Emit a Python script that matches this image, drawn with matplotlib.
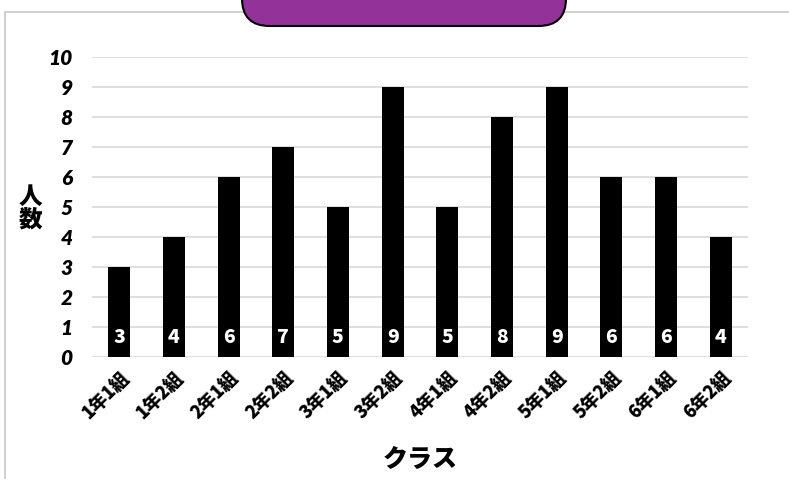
import matplotlib.pyplot as plt
import numpy as np
from matplotlib.patches import FancyBboxPatch, Rectangle

classes = ["1年1組", "1年2組", "2年1組", "2年2組", "3年1組", "3年2組",
           "4年1組", "4年2組", "5年1組", "5年2組", "6年1組", "6年2組"]
counts = [3, 4, 6, 7, 5, 9, 5, 8, 9, 6, 6, 4]
yticks = list(range(0, 11))

plt.rcParams['font.family'] = ['Noto Sans CJK JP', 'DejaVu Sans']
num_font = ['Lato', 'Noto Sans CJK JP']

fig = plt.figure(figsize=(7.89, 4.79), dpi=100)
ax = fig.add_axes([0.1166, 0.2547, 0.8314, 0.6263])

x = np.arange(len(classes))
bars = ax.bar(x, counts, width=0.4, color="black", zorder=3)

for xi, v in zip(x, counts):
    ax.text(xi, 0.65, str(v), color="white", ha="center", va="center",
            fontsize=14, fontweight="heavy", zorder=4)

ax.set_xlim(-0.5, len(classes) - 0.5)
ax.set_ylim(0, 10)
ax.set_yticks(yticks)
ax.set_yticklabels([str(t) for t in yticks], fontsize=15, fontweight="heavy",
                   style="italic", family=num_font)
ax.set_xticks(x)
ax.set_xticklabels(classes, rotation=45, ha="right", rotation_mode="anchor",
                   fontsize=13, fontweight="heavy")
ax.tick_params(length=0, pad=8)
ax.tick_params(axis="y", pad=14)
ax.grid(axis="y", color="#d9d9d9", linewidth=1.2, zorder=0)
for s in ax.spines.values():
    s.set_visible(False)

ax.set_xlabel("クラス", fontsize=18, fontweight="heavy", labelpad=16)
fig.text(0.038, 0.566, "人\n数", fontsize=17, fontweight="heavy",
         ha="center", va="center", linespacing=0.9)

# outer frame
fig.patches.append(Rectangle((5 / 789, -0.1), 1.2, 1 - 12 / 479 + 0.1,
                             transform=fig.transFigure, fill=False,
                             edgecolor="#d0d0d0", linewidth=1.5))
# title box
fig.patches.append(FancyBboxPatch((242 / 789, 26 / 479 * -1 + 1), 324 / 789, 0.2,
                                  boxstyle="round,pad=0,rounding_size=0.035",
                                  transform=fig.transFigure,
                                  facecolor="#93339a", edgecolor="black",
                                  linewidth=1.5, mutation_aspect=789 / 479))

fig.savefig("out.png", dpi=100)
